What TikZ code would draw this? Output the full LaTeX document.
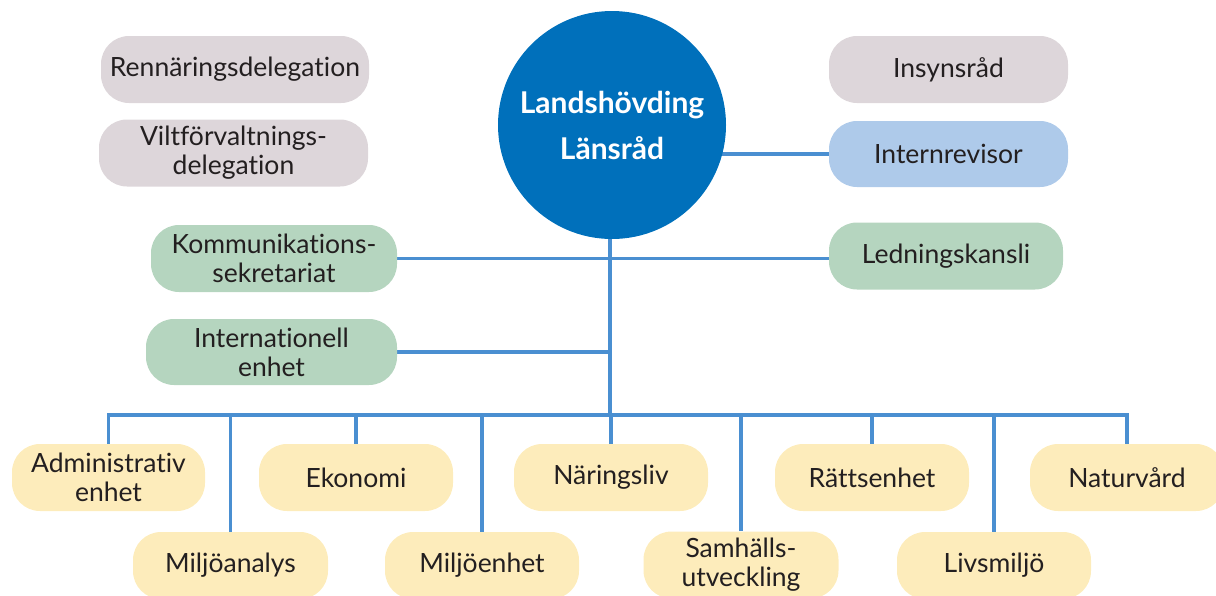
\documentclass[tikz,border=0pt]{standalone}
\usepackage{fontspec}
\setmainfont{Lato}[Ligatures=NoCommon]
\usetikzlibrary{backgrounds}
\definecolor{grayfill}{HTML}{DDD6DA}
\definecolor{circblue}{HTML}{0070BB}
\definecolor{lightblue}{HTML}{AECAEA}
\definecolor{greenfill}{HTML}{B5D5BF}
\definecolor{yellowfill}{HTML}{FDECBB}
\definecolor{linec}{HTML}{4A8FD1}
\definecolor{txt}{HTML}{231F20}
\tikzset{
  box/.style={rectangle, rounded corners=28pt, minimum height=67pt, inner sep=0pt,
    align=center, text=txt, font=\fontsize{26.5}{29}\selectfont},
  graybox/.style={box, fill=grayfill},
  bluebox/.style={box, fill=lightblue},
  greenbox/.style={box, fill=greenfill},
  yellowbox/.style={box, fill=yellowfill},
  conn/.style={draw=linec, line width=3.5pt}
}
\begin{document}
\begin{tikzpicture}[x=1pt,y=-1pt]
\useasboundingbox (0,0) rectangle (1216,595);
\clip (0,0) rectangle (1216,595);
% top left / right
\node[graybox, minimum width=268pt] (ren) at (235,69.5) {Rennäringsdelegation};
\node[graybox, minimum width=269pt] (vilt) at (233.5,153) {Viltförvaltnings-\\delegation};
\node[circle, fill=circblue, minimum size=228pt, inner sep=0pt, text=white, align=center,
      font=\fontsize{30}{46}\selectfont\bfseries] (lh) at (612,125) {Landshövding\\Länsråd};
\node[graybox, minimum width=239pt] (insyn) at (948.5,69.5) {Insynsråd};
\node[bluebox, minimum width=239pt, minimum height=66pt] (intr) at (948.5,154) {Internrevisor};
% staff units
\node[greenbox, minimum width=246pt] (komm) at (274,258.5) {Kommunikations-\\sekretariat};
\node[greenbox, minimum width=234pt] (led) at (946,256) {Ledningskansli};
\node[greenbox, minimum width=251pt, minimum height=66pt] (intl) at (271.5,352) {Internationell\\enhet};
% departments, upper row
\node[yellowbox, minimum width=193pt] (adm) at (108.5,477.5) {Administrativ\\enhet};
\node[yellowbox, minimum width=194pt] (eko) at (356,477.5) {Ekonomi};
\node[yellowbox, minimum width=194pt] (nar) at (611,477.5) {Näringsliv};
\node[yellowbox, minimum width=194pt] (ratt) at (872,477.5) {Rättsenhet};
\node[yellowbox, minimum width=194pt] (nat) at (1127,477.5) {Naturvård};
% departments, lower row
\node[yellowbox, minimum width=195pt] (milj) at (230.5,565.5) {Miljöanalys};
\node[yellowbox, minimum width=194pt] (mile) at (482,565.5) {Miljöenhet};
\node[yellowbox, minimum width=195pt] (samh) at (741,565) {Samhälls-\\utveckling};
\node[yellowbox, minimum width=194pt] (livs) at (994,565.5) {Livsmiljö};
\coordinate (bus) at (610,415);
\begin{scope}[on background layer]
  \draw[conn] (intr.west) -- (intr.west -| lh.center);
  \draw[conn] (lh.center -| bus) -- (bus);
  \draw[conn] (komm.east) -- (komm.east -| led.west);
  \draw[conn] (intl.east) -- (intl.east -| bus);
  \draw[conn] (adm.north) -- (adm.north |- bus) -- (nat.north |- bus) -- (nat.north);
  \foreach \n in {milj,eko,mile,nar,samh,ratt,livs}
    \draw[conn] (\n.north) -- (\n.north |- bus);
\end{scope}
\end{tikzpicture}
\end{document}
